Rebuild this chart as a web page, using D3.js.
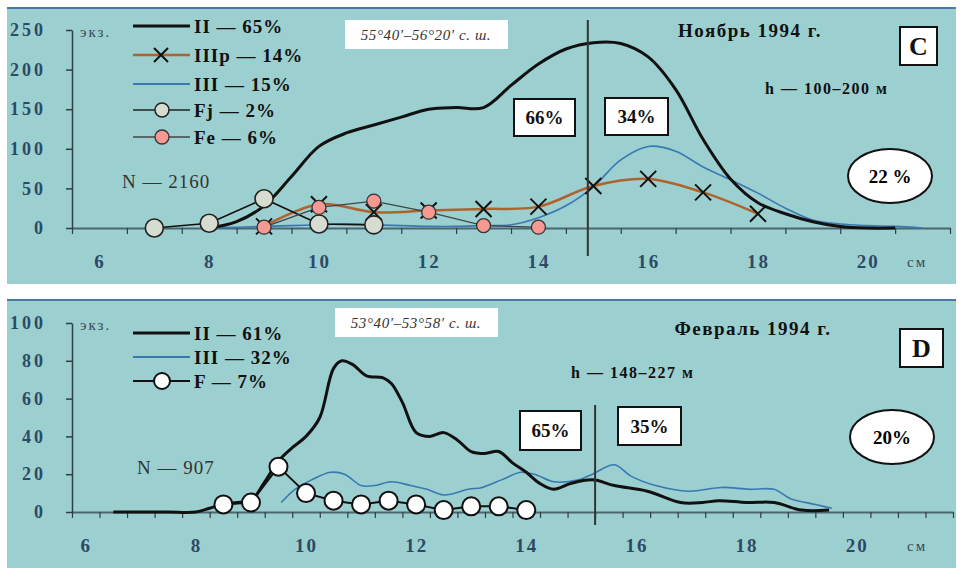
<!DOCTYPE html>
<html>
<head>
<meta charset="utf-8">
<script src="https://cdn.jsdelivr.net/npm/d3@7"></script>
<style>
  body { margin: 0; background: #fff; }
  svg text { font-family: "Liberation Serif", "DejaVu Serif", serif; }
</style>
</head>
<body>
<div id="chart"></div>
<script>

//Panel C (November 1994) data
var sizesC_II = [8, 8.5, 9, 9.5, 10, 10.5, 11, 11.5, 12, 12.5, 13, 13.5, 14, 14.5, 15, 15.5, 16, 16.5, 17, 17.5, 18, 18.5, 19, 19.5, 20, 20.5];
var valsC_II = [0, 8, 28, 65, 103, 120, 130, 140, 150, 152, 152, 180, 207, 226, 234, 233, 216, 175, 112, 62, 32, 18, 8, 2, 0, 0];
var sizesC_III = [8, 8.5, 9, 9.5, 10, 10.5, 11, 11.5, 12, 12.5, 13, 13.5, 14, 14.5, 15, 15.5, 16, 16.5, 17, 17.5, 18, 18.5, 19, 19.5, 20, 20.5, 21];
var valsC_III = [0, 1, 2, 3, 4, 5, 4, 3, 2, 2, 3, 4, 13, 28, 52, 86, 103, 97, 77, 61, 44, 25, 10, 5, 3, 2, 0];
var sizesC_IIIp = [9, 10, 11, 12, 13, 14, 15, 16, 17, 18];
var valsC_IIIp = [2, 30, 20, 22, 24, 27, 53, 62, 45, 18];
var sizesC_Fj = [7, 8, 9, 10, 11];
var valsC_Fj = [0, 6, 37, 5, 4];
var sizesC_Fe = [9, 10, 11, 12, 13, 14];
var valsC_Fe = [1, 26, 34, 20, 3, 1];

//Panel D (February 1994) data
var sizesD_II = [6.5, 7, 7.5, 8, 8.25, 8.5, 8.75, 9, 9.25, 9.5, 9.75, 10, 10.25, 10.5, 10.65, 10.85, 11.1, 11.4, 11.55, 11.75, 12, 12.25, 12.5, 12.75, 13, 13.25, 13.5, 13.75, 14, 14.25, 14.5, 14.8, 15.2, 15.6, 16.2, 16.8, 17.2, 17.5, 18, 18.5, 19, 19.5];
var valsD_II = [0, 0, 0, 0, 2, 4, 5, 6, 16, 27, 34, 40, 50, 76, 80, 78, 72, 71, 68, 58, 42, 40, 42, 38, 32, 31, 32, 26, 21, 15, 12, 15, 17, 14, 11, 5, 5, 6, 5, 5, 1, 1];
var sizesD_III = [9.55, 9.8, 10.1, 10.45, 10.7, 11, 11.25, 11.55, 11.9, 12.2, 12.5, 12.95, 13.2, 13.55, 13.9, 14.15, 14.5, 14.95, 15.2, 15.6, 15.9, 16.35, 16.95, 17.55, 18.05, 18.5, 18.8, 19.25, 19.55];
var valsD_III = [5, 12, 17, 21, 20, 14, 14, 16, 14, 12, 9, 12, 13, 17, 21, 20, 16, 17, 20, 25, 19, 14, 11, 13, 12, 12, 7, 4, 2];
var sizesD_F = [8.5, 9, 9.5, 10, 10.5, 11, 11.5, 12, 12.5, 13, 13.5, 14];
var valsD_F = [4, 5, 24, 10, 6, 4, 6, 4, 1, 3, 3, 1];

//Tick labels
var xLabels = [6, 8, 10, 12, 14, 16, 18, 20];
var yTicksC = [0, 50, 100, 150, 200, 250];
var yTicksD = [0, 20, 40, 60, 80, 100];

//Legend keys
var legendC = ["II — 65%", "IIIр — 14%", "III — 15%", "Fj — 2%", "Fe — 6%"];
var legendD = ["II — 61%", "III — 32%", "F — 7%"];

var w = 963, h = 569;
var bg = "#9ccfcf";
var tickColor = "#2c4a66";

var svg = d3.select("#chart").append("svg")
    .attr("width", w)
    .attr("height", h);

//Scales
var xC = d3.scaleLinear().domain([5.5, 21.5]).range([72, 950]);
var yC = d3.scaleLinear().domain([0, 250]).range([228, 30]);
var xD = d3.scaleLinear().domain([5.75, 21.75]).range([72, 953]);
var yD = d3.scaleLinear().domain([0, 100]).range([512, 323]);

function zip(xs, ys) {
    return xs.map((d, i) => [d, ys[i]]);
}

function drawPanel(g, x, y, yTicks, minorStart, top) {
    //background
    g.append("rect")
        .attr("x", 7).attr("y", top)
        .attr("width", 949).attr("height", top < 100 ? 276 : 268)
        .attr("fill", bg);
    g.append("line")
        .attr("x1", 7).attr("x2", 956)
        .attr("y1", top).attr("y2", top)
        .attr("stroke", "#4a78a6").attr("stroke-width", 2);

    //x axis with minor ticks
    var xAxis = g.append("g")
        .attr("transform", "translate(0," + y(0) + ")")
        .call(d3.axisBottom(x)
            .tickValues(d3.range(minorStart, 21.8, x === xC ? 1 : 0.5))
            .tickSize(6).tickSizeOuter(0).tickFormat(""));
    xAxis.select(".domain").attr("stroke", "#4a6670").attr("stroke-width", 2);
    xAxis.selectAll(".tick line").attr("stroke", "#2f3f44").attr("stroke-width", 1.2);

    //x labels
    var xLab = g.append("g")
        .attr("transform", "translate(0," + (y(0) + 26) + ")")
        .call(d3.axisBottom(x).tickValues(xLabels).tickSize(0).tickPadding(0).tickFormat(d3.format("d")));
    xLab.select(".domain").remove();
    xLab.selectAll("text")
        .style("font-size", "19px").style("font-weight", "bold")
        .style("letter-spacing", "2px")
        .attr("fill", tickColor);

    //y axis
    var yAxis = g.append("g")
        .attr("transform", "translate(" + x.range()[0] + ",0)")
        .call(d3.axisLeft(y).tickValues(yTicks).tickSize(6).tickSizeOuter(0).tickPadding(20));
    yAxis.select(".domain").attr("stroke", "#2f3f44").attr("stroke-width", 1.5);
    yAxis.selectAll(".tick line").attr("stroke", "#2f3f44").attr("stroke-width", 1.5);
    yAxis.selectAll("text")
        .style("font-size", "18px").style("font-weight", "bold")
        .style("letter-spacing", "3px")
        .attr("fill", tickColor);

    g.append("text")
        .attr("x", 80).attr("y", y.range()[1] + 7)
        .style("font-size", "15px").style("letter-spacing", "2px").attr("fill", "#3a4a55")
        .text("экз.");
    g.append("text")
        .attr("x", 907).attr("y", y(0) + 39)
        .style("font-size", "15px").style("letter-spacing", "2px").attr("fill", "#3a4a55")
        .text("см");
}

function boxLabel(g, x0, y0, bw, bh, label, size) {
    g.append("rect")
        .attr("x", x0).attr("y", y0).attr("width", bw).attr("height", bh)
        .attr("fill", "white").attr("stroke", "#111").attr("stroke-width", 2);
    g.append("text")
        .attr("x", x0 + bw / 2).attr("y", y0 + bh / 2)
        .attr("text-anchor", "middle").attr("dominant-baseline", "central")
        .style("font-size", size + "px").style("font-weight", "bold")
        .attr("fill", "#111")
        .text(label);
}

function ellipseLabel(g, cx, cy, label) {
    g.append("ellipse")
        .attr("cx", cx).attr("cy", cy).attr("rx", 42).attr("ry", 27)
        .attr("fill", "white").attr("stroke", "#111").attr("stroke-width", 2);
    g.append("text")
        .attr("x", cx).attr("y", cy)
        .attr("text-anchor", "middle").attr("dominant-baseline", "central")
        .style("font-size", "19px").style("font-weight", "bold")
        .text(label);
}

function latBox(g, x0, y0, label) {
    g.append("rect")
        .attr("x", x0).attr("y", y0).attr("width", 163).attr("height", 29)
        .attr("fill", "white");
    g.append("text")
        .attr("x", x0 + 81).attr("y", y0 + 15)
        .attr("text-anchor", "middle").attr("dominant-baseline", "central")
        .style("font-size", "15px").style("font-style", "italic")
        .style("letter-spacing", "0.6px").attr("fill", "#333")
        .text(label);
}

function xMark(g, cx, cy, r) {
    g.append("path")
        .attr("d", "M" + (cx - r) + "," + (cy - r) + "L" + (cx + r) + "," + (cy + r) +
                   "M" + (cx - r) + "," + (cy + r) + "L" + (cx + r) + "," + (cy - r))
        .attr("stroke", "#111").attr("stroke-width", 2).attr("fill", "none");
}

function legendText(g, x0, y0, label) {
    g.append("text")
        .attr("x", x0).attr("y", y0).attr("dominant-baseline", "central")
        .style("font-size", "19px").style("font-weight", "bold")
        .style("letter-spacing", "1px").attr("fill", "#111")
        .text(label);
}

function note(g, x0, y0, label, size, anchor) {
    g.append("text")
        .attr("x", x0).attr("y", y0)
        .attr("text-anchor", anchor || "start")
        .style("font-size", size + "px").style("font-weight", "bold")
        .style("letter-spacing", "1.5px").attr("fill", "#111")
        .text(label);
}

//===== Panel C =====
var gC = svg.append("g").attr("class", "panelC");
drawPanel(gC, xC, yC, yTicksC, 5.5, 8);

var lineC = d3.line().x(d => xC(d[0])).y(d => yC(d[1])).curve(d3.curveCatmullRom.alpha(0.5));
var lineCLin = d3.line().x(d => xC(d[0])).y(d => yC(d[1]));

gC.append("path").datum(zip(sizesC_III, valsC_III))
    .attr("d", lineC).attr("fill", "none")
    .attr("stroke", "#3a78b0").attr("stroke-width", 1.6);

gC.append("path").datum(zip(sizesC_IIIp, valsC_IIIp))
    .attr("d", lineC).attr("fill", "none")
    .attr("stroke", "#b0622c").attr("stroke-width", 2.5);

gC.append("path").datum(zip(sizesC_II, valsC_II))
    .attr("d", lineC).attr("fill", "none")
    .attr("stroke", "#111").attr("stroke-width", 3);

gC.append("path").datum(zip(sizesC_Fj, valsC_Fj))
    .attr("d", lineCLin).attr("fill", "none")
    .attr("stroke", "#111").attr("stroke-width", 1.6);

gC.append("path").datum(zip(sizesC_Fe, valsC_Fe))
    .attr("d", lineCLin).attr("fill", "none")
    .attr("stroke", "#444").attr("stroke-width", 1.3);

zip(sizesC_IIIp, valsC_IIIp).forEach(d => xMark(gC, xC(d[0]), yC(d[1]), 8));

gC.selectAll(".fj").data(zip(sizesC_Fj, valsC_Fj)).enter().append("circle")
    .attr("cx", d => xC(d[0])).attr("cy", d => yC(d[1])).attr("r", 9)
    .attr("fill", "#d6dccf").attr("stroke", "#222").attr("stroke-width", 1.6);

gC.selectAll(".fe").data(zip(sizesC_Fe, valsC_Fe)).enter().append("circle")
    .attr("cx", d => xC(d[0])).attr("cy", d => yC(d[1])).attr("r", 7)
    .attr("fill", "#f59a92").attr("stroke", "#333").attr("stroke-width", 1.3);

//vertical divider
gC.append("line")
    .attr("x1", xC(14.9)).attr("x2", xC(14.9))
    .attr("y1", 20).attr("y2", 256)
    .attr("stroke", "#333").attr("stroke-width", 2);

//legend C
var lgC = [26, 55, 84, 110, 137];
var lgStyles = [
    {stroke: "#111", width: 3},
    {stroke: "#b0622c", width: 2.5},
    {stroke: "#3a78b0", width: 2},
    {stroke: "#222", width: 1.6},
    {stroke: "#444", width: 1.6}
];
legendC.forEach(function(k, i) {
    gC.append("line")
        .attr("x1", 133).attr("x2", 190).attr("y1", lgC[i]).attr("y2", lgC[i])
        .attr("stroke", lgStyles[i].stroke).attr("stroke-width", lgStyles[i].width);
    legendText(gC, 194, lgC[i], k);
});
xMark(gC, 161, lgC[1], 7);
gC.append("circle").attr("cx", 162).attr("cy", lgC[3]).attr("r", 7)
    .attr("fill", "#d6dccf").attr("stroke", "#222").attr("stroke-width", 1.5);
gC.append("circle").attr("cx", 162).attr("cy", lgC[4]).attr("r", 7)
    .attr("fill", "#f59a92").attr("stroke", "#333").attr("stroke-width", 1.3);

gC.append("text").attr("x", 122).attr("y", 188)
    .style("font-size", "19px").style("letter-spacing", "1px").attr("fill", "#333").text("N — 2160");

latBox(gC, 345, 20, "55°40′–56°20′ с. ш.");
note(gC, 750, 37, "Ноябрь 1994 г.", 19, "middle");
note(gC, 765, 94, "h — 100–200 м", 16);
boxLabel(gC, 900, 27, 37, 38, "C", 26);
boxLabel(gC, 514, 99, 61, 37, "66%", 19);
boxLabel(gC, 605, 98, 63, 37, "34%", 19);
ellipseLabel(gC, 890, 176, "22 %");

//===== Panel D =====
var gD = svg.append("g").attr("class", "panelD");
drawPanel(gD, xD, yD, yTicksD, 5.75, 300);

var lineD = d3.line().x(d => xD(d[0])).y(d => yD(d[1])).curve(d3.curveCatmullRom.alpha(0.5));
var lineDLin = d3.line().x(d => xD(d[0])).y(d => yD(d[1]));

gD.append("path").datum(zip(sizesD_III, valsD_III))
    .attr("d", lineD).attr("fill", "none")
    .attr("stroke", "#3a78b0").attr("stroke-width", 1.6);

gD.append("path").datum(zip(sizesD_II, valsD_II))
    .attr("d", lineD).attr("fill", "none")
    .attr("stroke", "#111").attr("stroke-width", 3);

gD.append("path").datum(zip(sizesD_F, valsD_F))
    .attr("d", lineDLin).attr("fill", "none")
    .attr("stroke", "#111").attr("stroke-width", 2);

gD.selectAll(".f").data(zip(sizesD_F, valsD_F)).enter().append("circle")
    .attr("cx", d => xD(d[0])).attr("cy", d => yD(d[1])).attr("r", 9)
    .attr("fill", "white").attr("stroke", "#111").attr("stroke-width", 2);

gD.append("line")
    .attr("x1", xD(15.25)).attr("x2", xD(15.25))
    .attr("y1", 405).attr("y2", 525)
    .attr("stroke", "#333").attr("stroke-width", 2);

//legend D
var lgD = [333, 357, 381];
var lgStylesD = [
    {stroke: "#111", width: 3},
    {stroke: "#3a78b0", width: 2},
    {stroke: "#111", width: 2}
];
legendD.forEach(function(k, i) {
    gD.append("line")
        .attr("x1", 133).attr("x2", 190).attr("y1", lgD[i]).attr("y2", lgD[i])
        .attr("stroke", lgStylesD[i].stroke).attr("stroke-width", lgStylesD[i].width);
    legendText(gD, 194, lgD[i], k);
});
gD.append("circle").attr("cx", 162).attr("cy", lgD[2]).attr("r", 8)
    .attr("fill", "white").attr("stroke", "#111").attr("stroke-width", 2);

gD.append("text").attr("x", 137).attr("y", 474)
    .style("font-size", "19px").style("letter-spacing", "1px").attr("fill", "#333").text("N — 907");

latBox(gD, 335, 308, "53°40′–53°58′ с. ш.");
note(gD, 753, 335, "Февраль 1994 г.", 19, "middle");
note(gD, 571, 378, "h — 148–227 м", 16);
boxLabel(gD, 900, 329, 43, 38, "D", 26);
boxLabel(gD, 520, 411, 61, 39, "65%", 19);
boxLabel(gD, 618, 407, 63, 38, "35%", 19);
ellipseLabel(gD, 892, 437, "20%");

</script>
</body>
</html>
